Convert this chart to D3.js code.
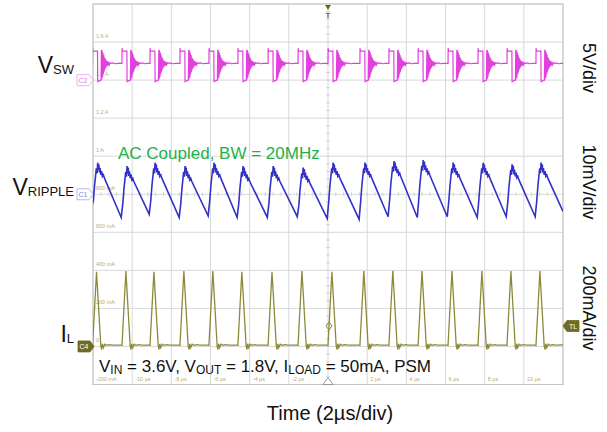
<!DOCTYPE html>
<html><head><meta charset="utf-8">
<script src="https://cdn.jsdelivr.net/npm/d3@7"></script>
<style>
body{margin:0;background:#fff;}
svg{display:block;font-family:"Liberation Sans",Arial,sans-serif;}
</style>
</head><body>
<script>
// ---------------- data ----------------
// switching edges (µs) — start of each high-side pulse
const edgeTimes = [-12.02, -10.52, -9.09, -7.56, -6.08, -4.60, -3.06, -1.53, 0.0, 1.63, 3.11, 4.60, 6.13, 7.66, 9.14, 10.62];

// V_SW pulse shape after each edge (µs offset, volts)
const vswT = [0, 0.005, 0.02, 0.24, 0.25, 0.26, 0.42, 0.43, 0.45, 0.47, 0.49, 0.51, 0.53, 0.55, 0.57, 0.59, 0.61, 0.63, 0.65, 0.67, 0.69, 0.72, 0.75, 0.78, 0.81, 0.85, 0.9, 0.95, 1.05, 1.15, 1.3];
const vswV = [2.2, 4.2, 3.8, 3.8, 3.8, -0.2, 0.0, 0.0, 4.0, 0.1, 3.9, 0.4, 3.6, 0.8, 3.3, 1.1, 3.0, 1.4, 2.8, 1.6, 2.6, 1.8, 2.5, 1.9, 2.4, 2.0, 2.3, 2.2, 2.25, 2.15, 2.2];
const vswEnd = 2.2;

// output ripple (mV): valley before each edge, peak after each edge
const rippleMins  = [-3.2, -6.1, -5.3, -6.1, -5.7, -6.1, -6.1, -5.9, -6.4, -6.6, -5.9, -6.1, -5.9, -6.1, -5.9, -5.9];
const ripplePeaks = [8.3, 7.4, 8.3, 7.4, 8.3, 7.4, 7.4, 7.0, 8.3, 8.3, 8.75, 9.0, 8.3, 8.3, 7.9, 8.3];
const rippleT   = [-0.04, 0.04, 0.1, 0.15, 0.19, 0.23, 0.26, 0.29, 0.32, 0.35, 0.38, 0.42, 0.46, 0.5, 0.55, 0.6];
const rippleRel = [-10, -6, -3.5, -1.5, -2.8, 0, -1.9, -0.4, -2.6, -1.4, -3.2, -2.2, -3.6, -3.2, -4.0];
const rippleEnd = -4.5;

// inductor current (mA)
const ilPeaks = [392, 396, 392, 396, 396, 392, 392, 396, 392, 396, 398, 396, 396, 396, 396, 396];
const ilT = [-0.03, 0.0, 0.2, 0.42, 0.46, 0.5, 0.55, 0.62, 0.72, 0.85, 1.0];
const ilV = [8, 6, null, 2, -16, 14, -6, 12, 6, 10, 7];
const ilEnd = 8;

// axis / labels
const timeTicks = [-10, -8, -6, -4, -2, 2, 4, 6, 8, 10];
const levelLabels = ["1.6 A", "1.4 A", "1.2 A", "1 A", "800 mA", "600 mA", "400 mA", "200 mA", "0", "-200 mA"];
const levelDivs   = [4, 3, 2, 1, 0, -1, -2, -3, -4, -5];
const scaleLabels = ["5V/div", "10mV/div", "200mA/div"];

// ---------------- chart ----------------
const W = 607, H = 432;
const L = 93, R = 563, T = 4, B = 384.5;
const svg = d3.select("body").append("svg").attr("width", W).attr("height", H);
const x = d3.scaleLinear().domain([-12, 12]).range([L, R]);
const y = d3.scaleLinear().domain([-5, 5]).range([B, T]);

const C_SW = "#e23fdc", C_RP = "#3232c8", C_IL = "#8c8a38", C_OL = "#6f6c1f";

// grid
const g = svg.append("g");
g.selectAll(".vg").data(d3.range(-12, 13, 2)).join("line")
  .attr("x1", d => x(d)).attr("x2", d => x(d)).attr("y1", T).attr("y2", B)
  .attr("stroke", "#d8d8d8").attr("stroke-width", 1);
g.selectAll(".hg").data(d3.range(-5, 6, 1)).join("line")
  .attr("x1", L).attr("x2", R).attr("y1", d => y(d)).attr("y2", d => y(d))
  .attr("stroke", "#d8d8d8").attr("stroke-width", 1);
// minor ticks on centre lines
g.selectAll(".mt").data(d3.range(-12, 12.01, 0.4)).join("line")
  .attr("x1", d => x(d)).attr("x2", d => x(d)).attr("y1", y(0) - 2).attr("y2", y(0) + 2)
  .attr("stroke", "#d4d4d4");
g.selectAll(".mt2").data(d3.range(-5, 5.01, 0.2)).join("line")
  .attr("x1", x(0) - 2).attr("x2", x(0) + 2).attr("y1", d => y(d)).attr("y2", d => y(d))
  .attr("stroke", "#d4d4d4");
g.append("rect").attr("x", L).attr("y", T).attr("width", R - L).attr("height", B - T)
  .attr("fill", "none").attr("stroke", "#c4c4c4");

// level labels
g.selectAll(".ll").data(levelLabels).join("text")
  .attr("x", L + 3).attr("y", (d, i) => y(levelDivs[i]) - 4)
  .attr("font-size", 5.5).attr("fill", "#b3ad80").text(d => d);
// time tick labels
g.selectAll(".tl").data(timeTicks).join("text")
  .attr("x", d => x(d) + 3).attr("y", B - 4)
  .attr("font-size", 5.5).attr("fill", "#b3ad80").text(d => d + " µs");

// clip
svg.append("clipPath").attr("id", "clip").append("rect")
  .attr("x", L).attr("y", T).attr("width", R - L).attr("height", B - T);
const plot = svg.append("g").attr("clip-path", "url(#clip)");

// build traces
const swPts = [], rpPts = [], ilPts = [];
edgeTimes.forEach((e, i) => {
  vswT.forEach((t, j) => swPts.push([e + t, vswV[j]]));
  rippleT.forEach((t, j) => rpPts.push([e + t, j === 0 ? rippleMins[i] : ripplePeaks[i] + rippleRel[j - 1]]));
  ilT.forEach((t, j) => ilPts.push([e + t, ilV[j] === null ? ilPeaks[i] : ilV[j]]));
});
swPts.push([12, vswEnd]); rpPts.push([12, rippleEnd]); ilPts.push([12, ilEnd]);

const lineSW = d3.line().x(d => x(d[0])).y(d => y(d[1] / 5 + 3));
const lineRP = d3.line().x(d => x(d[0])).y(d => y(d[1] / 10));
const lineIL = d3.line().x(d => x(d[0])).y(d => y(d[1] / 200 - 4));

plot.append("path").attr("d", lineSW(swPts)).attr("fill", "none").attr("stroke", C_SW).attr("stroke-width", 1.2);
plot.append("path").attr("d", lineRP(rpPts)).attr("fill", "none").attr("stroke", C_RP).attr("stroke-width", 1.6);
plot.append("path").attr("d", lineIL(ilPts)).attr("fill", "none").attr("stroke", C_IL).attr("stroke-width", 1.3);

// trigger marker top
const cx = x(0);
svg.append("path").attr("d", `M${cx - 3},${T + 1}L${cx + 3},${T + 1}L${cx},${T + 6}Z`).attr("fill", C_OL);
svg.append("text").attr("x", cx).attr("y", T + 14).attr("text-anchor", "middle")
  .attr("font-size", 8).attr("font-weight", "bold").attr("fill", C_OL).text("T");
// bottom trigger triangle
svg.append("path").attr("d", `M${cx - 5},${B}L${cx + 5},${B}L${cx},${B - 7}Z`)
  .attr("fill", "#fff").attr("stroke", "#999");
// diamond
svg.append("path").attr("d", `M${cx + 1},${322}L${cx + 4},${326}L${cx + 1},${330}L${cx - 2},${326}Z`)
  .attr("fill", "none").attr("stroke", C_IL);

// channel tags
function tag(xl, yc, w, fill, stroke, txt, txtCol, dir) {
  const h = 11;
  const p = dir > 0
    ? `M${xl},${yc - h / 2}L${xl + w - 4},${yc - h / 2}L${xl + w},${yc}L${xl + w - 4},${yc + h / 2}L${xl},${yc + h / 2}Z`
    : `M${xl + w},${yc - h / 2}L${xl + 4},${yc - h / 2}L${xl},${yc}L${xl + 4},${yc + h / 2}L${xl + w},${yc + h / 2}Z`;
  svg.append("path").attr("d", p).attr("fill", fill).attr("stroke", stroke).attr("stroke-width", 0.8);
  svg.append("text").attr("x", xl + (dir > 0 ? (w - 4) / 2 : 4 + (w - 4) / 2)).attr("y", yc + 2.5)
    .attr("text-anchor", "middle").attr("font-size", 7).attr("fill", txtCol).text(txt);
}
tag(77, y(3), 16, "#fff", "#eaa0ea", "C2", "#e080e0", 1);
tag(77, y(0), 16, "#fff", "#a8a8ee", "C1", "#8888e0", 1);
tag(78, y(-4), 16, C_OL, C_OL, "C4", "#fff", 1);
tag(563, 326, 16, C_OL, C_OL, "TL", "#fff", -1);

// left labels
function subLabel(xr, yb, main, sub, fs, ss) {
  const t = svg.append("text").attr("x", xr).attr("y", yb).attr("text-anchor", "end").attr("fill", "#111");
  t.append("tspan").attr("font-size", fs).text(main);
  t.append("tspan").attr("font-size", ss).attr("dy", 1).text(sub);
}
subLabel(74, 73, "V", "SW", 23, 13);
subLabel(74, 195, "V", "RIPPLE", 23, 13);
subLabel(74, 342, "I", "L", 23, 13);

// right rotated labels
const rl = [68, 182, 308];
scaleLabels.forEach((s, i) => {
  svg.append("text").attr("transform", `translate(583,${rl[i]}) rotate(90)`)
    .attr("text-anchor", "middle").attr("font-size", 18).attr("fill", "#111").text(s);
});

// annotations
svg.append("text").attr("x", 118).attr("y", 159).attr("font-size", 17).attr("fill", "#1fb04a")
  .text("AC Coupled, BW = 20MHz");
const ann = svg.append("text").attr("x", 99).attr("y", 372).attr("font-size", 17).attr("fill", "#111");
[["V", 0], ["IN", 1], [" = 3.6V, V", 0], ["OUT", 1], [" = 1.8V, I", 0], ["LOAD", 1], [" = 50mA, PSM", 0]]
  .forEach((p, i, arr) => {
    const prevSub = i > 0 && arr[i - 1][1];
    ann.append("tspan").attr("font-size", p[1] ? 12 : 17)
      .attr("dy", p[1] ? 2 : (prevSub ? -2 : 0)).text(p[0]);
  });
svg.append("text").attr("x", 330).attr("y", 420).attr("text-anchor", "middle")
  .attr("font-size", 20).attr("fill", "#111").text("Time (2µs/div)");
</script>
</body></html>
